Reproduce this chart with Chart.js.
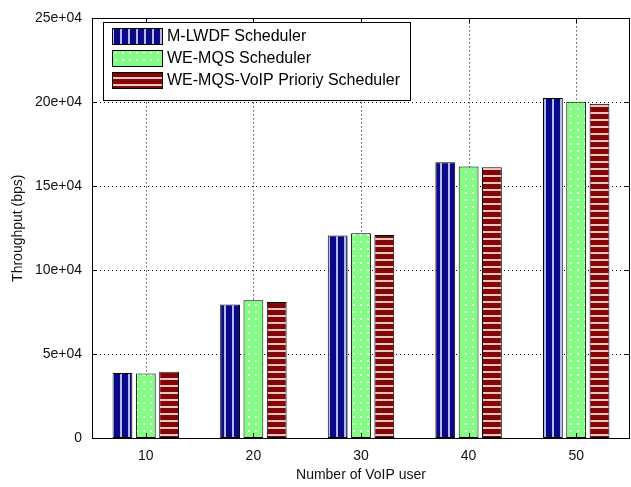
<!DOCTYPE html>
<html>
<head>
<meta charset="utf-8">
<script src="https://cdn.jsdelivr.net/npm/chart.js@4/dist/chart.umd.min.js"></script>
<style>
  html, body { margin: 0; padding: 0; background: #fff; }
  #wrap { width: 631px; height: 487px; position: relative; }
</style>
</head>
<body>
<div id="wrap"><canvas id="chart" width="631" height="487"></canvas></div>
<script>
// Data
const userCounts = ['10', '20', '30', '40', '50'];
const seriesNames = ['M-LWDF Scheduler', 'WE-MQS Scheduler', 'WE-MQS-VoIP Prioriy Scheduler'];
const mlwdf = [38700, 79600, 120600, 164300, 202500];
const wemqs = [38500, 82000, 122000, 161700, 200300];
const wemqsVoip = [39400, 81100, 121000, 161300, 199200];
const yTicks = [0, 50000, 100000, 150000, 200000, 250000];

const FONT = '"Liberation Sans", Arial, sans-serif';

// Hatch-like fills, MATLAB style
const makePattern = (w, h, draw) => {
  const c = document.createElement('canvas');
  c.width = w; c.height = h;
  draw(c.getContext('2d'));
  return document.getElementById('chart').getContext('2d').createPattern(c, 'repeat');
};
const bluePat = makePattern(8, 8, g => {
  g.fillStyle = '#0a0a88'; g.fillRect(0, 0, 8, 8);
  g.fillStyle = '#b4b8ea'; g.fillRect(0, 0, 2, 8);
});
const greenPat = makePattern(7, 7, g => {
  g.fillStyle = '#84fb84'; g.fillRect(0, 0, 7, 7);
  g.fillStyle = '#e6ffe6'; g.fillRect(3, 3, 2, 2);
});
const redPat = makePattern(7, 7, g => {
  g.fillStyle = '#820606'; g.fillRect(0, 0, 7, 7);
  g.fillStyle = '#ecc4c4'; g.fillRect(0, 0, 7, 2);
});
const fills = [bluePat, greenPat, redPat];

// dotted grid at the tick positions, behind the bars
const dottedGrid = {
  id: 'dottedGrid',
  beforeDatasetsDraw(chart) {
    const { ctx, chartArea: a, scales: { x, y } } = chart;
    ctx.save();
    ctx.strokeStyle = '#000';
    ctx.lineWidth = 1;
    ctx.setLineDash([1, 3]);
    yTicks.forEach(v => {
      const py = Math.round(y.getPixelForValue(v)) + 0.5;
      ctx.beginPath(); ctx.moveTo(a.left, py); ctx.lineTo(a.right, py); ctx.stroke();
    });
    userCounts.forEach((c, i) => {
      const px = Math.round(x.getPixelForValue(i)) + 0.5;
      ctx.beginPath(); ctx.moveTo(px, a.top); ctx.lineTo(px, a.bottom); ctx.stroke();
    });
    ctx.restore();
  }
};

// axes box with inward ticks + boxed legend
const frameAndLegend = {
  id: 'frameAndLegend',
  afterDatasetsDraw(chart) {
    const { ctx, chartArea: a, scales: { x, y } } = chart;
    ctx.save();
    ctx.strokeStyle = '#000';
    ctx.lineWidth = 1;
    ctx.strokeRect(Math.round(a.left) + 0.5, Math.round(a.top) + 0.5,
      Math.round(a.right - a.left) - 1, Math.round(a.bottom - a.top));
    ctx.beginPath();
    yTicks.forEach(v => {
      const py = Math.round(y.getPixelForValue(v)) + 0.5;
      ctx.moveTo(a.left, py); ctx.lineTo(a.left + 5, py);
      ctx.moveTo(a.right, py); ctx.lineTo(a.right - 5, py);
    });
    userCounts.forEach((c, i) => {
      const px = Math.round(x.getPixelForValue(i)) + 0.5;
      ctx.moveTo(px, a.bottom); ctx.lineTo(px, a.bottom - 5);
      ctx.moveTo(px, a.top); ctx.lineTo(px, a.top + 5);
    });
    ctx.stroke();

    // legend
    const lx = 103, ly = 22, lw = 307, lh = 78;
    ctx.fillStyle = '#fff';
    ctx.fillRect(lx, ly, lw, lh);
    ctx.strokeRect(lx + 0.5, ly + 0.5, lw, lh);
    ctx.font = '16px ' + FONT;
    ctx.textBaseline = 'middle';
    chart.data.datasets.forEach((ds, i) => {
      const sy = 28 + i * 22;
      ctx.fillStyle = fills[i];
      ctx.fillRect(112, sy, 51, 16);
      ctx.strokeRect(112.5, sy + 0.5, 50, 16);
      ctx.fillStyle = '#000';
      ctx.fillText(ds.label, 167, sy + 9);
    });
    ctx.restore();
  }
};

const mkSet = (label, data, i) => ({
  label, data,
  backgroundColor: fills[i],
  borderColor: '#000',
  borderWidth: 1,
  borderSkipped: false,
  categoryPercentage: 0.65,
  barPercentage: 0.85
});

new Chart(document.getElementById('chart'), {
  type: 'bar',
  data: {
    labels: userCounts,
    datasets: [
      mkSet(seriesNames[0], mlwdf, 0),
      mkSet(seriesNames[1], wemqs, 1),
      mkSet(seriesNames[2], wemqsVoip, 2)
    ]
  },
  options: {
    responsive: false,
    animation: false,
    layout: { padding: { top: 15, right: 1, left: 0, bottom: 0 } },
    plugins: { legend: { display: false }, tooltip: { enabled: false } },
    scales: {
      x: {
        grid: { display: false, drawTicks: false },
        border: { display: false },
        ticks: { color: '#111', font: { family: FONT, size: 14 }, padding: 10 },
        title: { display: true, text: 'Number of VoIP user', color: '#111',
                 font: { family: FONT, size: 14 }, padding: { top: 2, bottom: 3 } },
        afterFit: s => { s.height = 49; }
      },
      y: {
        min: 0, max: 250000,
        grid: { display: false, drawTicks: false },
        border: { display: false },
        afterBuildTicks: s => { s.ticks = yTicks.map(v => ({ value: v })); },
        ticks: {
          color: '#111', font: { family: FONT, size: 14 }, padding: 10,
          callback: v => v === 0 ? '0' : (v / 10000) + 'e+04'
        },
        title: { display: true, text: 'Throughput (bps)', color: '#111',
                 font: { family: FONT, size: 14 }, padding: { top: 10, bottom: 0 } },
        afterFit: s => { s.width = 92; }
      }
    }
  },
  plugins: [dottedGrid, frameAndLegend]
});
</script>
</body>
</html>
